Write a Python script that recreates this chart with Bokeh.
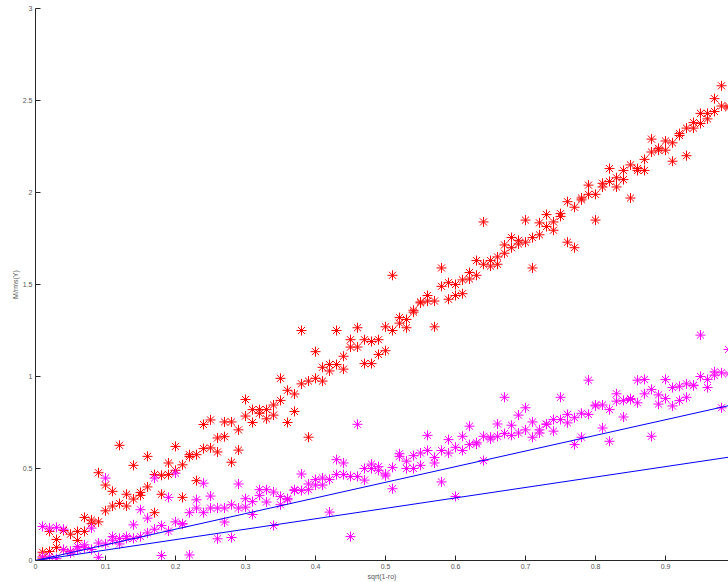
from bokeh.plotting import figure
from bokeh.embed import file_html
from bokeh.resources import INLINE
from bokeh.models import FixedTicker, CustomJSTickFormatter, Range1d

# x positions sqrt(1-ro)
x_vals = [round(0.01 * i, 2) for i in range(1, 100)]

red_hi = [0.045, 0.158, 0.114, 0.163, 0.143, 0.158, 0.234, 0.22, 0.477, 0.41,
          0.376, 0.626, 0.36, 0.517, 0.37, 0.566, 0.467, 0.463, 0.53, 0.62,
          0.52, 0.575, 0.575, 0.739, 0.764, 0.666, 0.753, 0.753, 0.71, 0.875,
          0.82, 0.82, 0.82, 0.845, 0.99, 0.925, 0.905, 1.25, 0.975, 1.135,
          1.05, 1.065, 1.25, 1.11, 1.20, 1.265, 1.20, 1.19, 1.20, 1.27,
          1.55, 1.32, 1.31, 1.36, 1.405, 1.44, 1.41, 1.59, 1.51, 1.50,
          1.525, 1.565, 1.63, 1.84, 1.63, 1.65, 1.715, 1.755, 1.74, 1.85,
          1.755, 1.835, 1.88, 1.84, 1.885, 1.95, 1.92, 1.97, 2.04, 1.99,
          2.05, 2.13, 2.08, 2.12, 2.15, 2.13, 2.18, 2.29, 2.24, 2.28,
          2.27, 2.32, 2.35, 2.38, 2.43, 2.43, 2.51, 2.58, 2.47]
red_lo = [0.013, 0.049, 0.071, 0.058, 0.049, 0.109, 0.158, 0.20, 0.21, 0.27,
          0.296, 0.31, 0.296, 0.334, 0.354, 0.40, 0.26, 0.36, 0.467, 0.49,
          0.343, 0.565, 0.434, 0.608, 0.612, 0.59, 0.673, 0.534, 0.60, 0.785,
          0.75, 0.80, 0.77, 0.79, 0.87, 0.75, 0.81, 0.96, 0.67, 0.99,
          0.975, 1.03, 1.065, 1.04, 1.16, 1.16, 1.07, 1.07, 1.12, 1.14,
          1.25, 1.29, 1.265, 1.35, 1.40, 1.41, 1.27, 1.49, 1.42, 1.44,
          1.45, 1.53, 1.55, 1.61, 1.60, 1.61, 1.67, 1.70, 1.72, 1.73,
          1.59, 1.77, 1.815, 1.795, 1.87, 1.73, 1.70, 1.96, 1.99, 1.85,
          2.03, 2.06, 2.03, 2.07, 1.97, 2.12, 2.12, 2.22, 2.23, 2.23,
          2.17, 2.31, 2.20, 2.35, 2.375, 2.40, 2.44, 2.47, 2.46]

mag_hi = [0.185, 0.176, 0.18, 0.17, 0.05, 0.076, 0.085, 0.176, 0.095, 0.448,
          0.13, 0.12, 0.13, 0.194, 0.276, 0.23, 0.448, 0.19, 0.343, 0.475,
          0.20, 0.26, 0.33, 0.42, 0.35, 0.285, 0.285, 0.303, 0.416, 0.336,
          0.32, 0.385, 0.385, 0.372, 0.348, 0.336, 0.385, 0.47, 0.416, 0.44,
          0.448, 0.44, 0.548, 0.53, 0.457, 0.74, 0.50, 0.524, 0.51, 0.47,
          0.506, 0.58, 0.54, 0.57, 0.584, 0.68, 0.56, 0.598, 0.657, 0.615,
          0.675, 0.73, 0.64, 0.675, 0.67, 0.742, 0.887, 0.735, 0.79, 0.83,
          0.753, 0.71, 0.742, 0.766, 0.887, 0.794, 0.776, 0.80, 0.98, 0.845,
          0.845, 0.82, 0.906, 0.87, 0.88, 0.98, 0.984, 0.93, 0.90, 0.984,
          0.94, 0.947, 0.96, 0.953, 1.225, 0.984, 1.025, 1.02, 1.147]
mag_lo = [0.02, 0.02, 0.01, 0.06, 0.04, 0.058, 0.07, 0.06, 0.017, 0.09,
          0.11, 0.09, 0.12, 0.12, 0.13, 0.15, 0.17, 0.027, 0.16, 0.21,
          0.198, 0.03, 0.285, 0.26, 0.285, 0.118, 0.209, 0.125, 0.285, 0.29,
          0.25, 0.354, 0.318, 0.19, 0.303, 0.33, 0.38, 0.38, 0.385, 0.41,
          0.41, 0.263, 0.467, 0.467, 0.13, 0.457, 0.437, 0.50, 0.49, 0.46,
          0.39, 0.566, 0.50, 0.50, 0.517, 0.598, 0.53, 0.427, 0.584, 0.348,
          0.598, 0.63, 0.633, 0.543, 0.66, 0.675, 0.69, 0.68, 0.693, 0.71,
          0.67, 0.693, 0.74, 0.703, 0.766, 0.748, 0.63, 0.67, 0.794, 0.84,
          0.72, 0.648, 0.866, 0.78, 0.875, 0.857, 0.906, 0.675, 0.85, 0.88,
          0.84, 0.87, 0.887, 0.95, 1.0, 0.94, 1.007, 0.83, 1.014]

line_x = [0.0, 1.0]
line1_y = [0.0, 0.85]
line2_y = [0.0, 0.567]

x_ticks = [0, 0.1, 0.2, 0.3, 0.4, 0.5, 0.6, 0.7, 0.8, 0.9]
y_ticks = [0, 0.5, 1, 1.5, 2, 2.5, 3]

p = figure(width=728, height=582, output_backend="svg", toolbar_location=None,
           x_range=Range1d(0, 0.99), y_range=Range1d(0, 3),
           min_border_left=35, min_border_right=0, min_border_top=8,
           min_border_bottom=0)
p.outline_line_color = None
p.grid.visible = False
p.background_fill_color = "white"
p.border_fill_color = "white"

p.scatter(x_vals, red_hi, marker="asterisk", size=10, line_color="#ff0000", line_width=1)
p.scatter(x_vals, red_lo, marker="asterisk", size=10, line_color="#ff0000", line_width=1)
p.scatter(x_vals, mag_hi, marker="asterisk", size=10, line_color="#ff00ff", line_width=1)
p.scatter(x_vals, mag_lo, marker="asterisk", size=10, line_color="#ff00ff", line_width=1)
p.line(line_x, line1_y, line_color="#0000ff", line_width=1)
p.line(line_x, line2_y, line_color="#0000ff", line_width=1)

fmt = CustomJSTickFormatter(code="return String(Number(tick.toFixed(2)));")
for ax, ticks in ((p.xaxis[0], x_ticks), (p.yaxis[0], y_ticks)):
    ax.ticker = FixedTicker(ticks=ticks)
    ax.formatter = fmt
    ax.major_tick_in = 5
    ax.major_tick_out = 0
    ax.minor_tick_line_color = None
    ax.axis_line_color = "#262626"
    ax.major_tick_line_color = "#262626"
    ax.major_label_text_font = "Liberation Sans"
    ax.major_label_text_font_size = "7px"
    ax.major_label_text_color = "#555555"
    ax.axis_label_text_font = "Liberation Sans"
    ax.axis_label_text_font_size = "7px"
    ax.axis_label_text_font_style = "normal"
    ax.axis_label_text_color = "#555555"
    ax.major_label_standoff = 3
    ax.axis_label_standoff = 1

p.xaxis.axis_label = "sqrt(1-ro)"
p.yaxis.axis_label = "M/rms(Y)"

open("out.html", "w").write(file_html(p, INLINE))
